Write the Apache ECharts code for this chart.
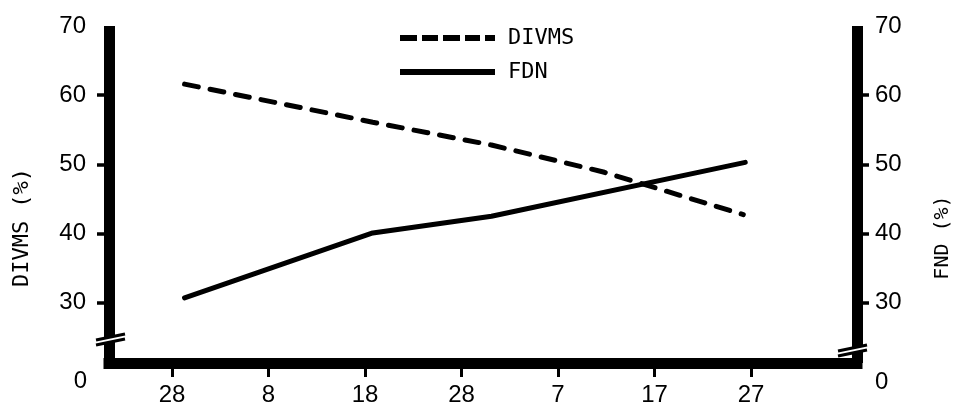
<!DOCTYPE html>
<html>
<head>
<meta charset="utf-8">
<script src="https://cdn.jsdelivr.net/npm/echarts@6/dist/echarts.min.js"></script>
<style>html,body{margin:0;padding:0;background:#fff;}#c{width:957px;height:406px;}</style>
</head>
<body>
<div id="c"></div>
<script>
// ---- data ----
const dayTicks = [0, 10, 20, 30, 40, 50, 60];
const dayLabels = ['28', '8', '18', '28', '7', '17', '27'];
const yTickValues = [30, 40, 50, 60];
const yLabelValues = [30, 40, 50, 60, 70];
const divmsDays = [1.3, 20.8, 33.1, 44.7, 59.2];
const divmsValues = [61.6, 56.1, 52.8, 48.9, 42.75];
const fdnDays = [1.3, 20.8, 33.1, 59.4];
const fdnValues = [30.7, 40.1, 42.5, 50.3];
const seriesNames = ['DIVMS', 'FDN'];
const axisNames = ['DIVMS (%)', 'FND (%)'];
const zeroLabel = '0';

const numFont = '"Liberation Sans", Arial, sans-serif';
const monoFont = '"DejaVu Sans Mono", monospace';
const dashIcon = 'path://M0,0H17V6H0Z M22,0H38V6H22Z M43,0H60V6H43Z M65,0H80V6H65Z M85,0H95V6H85Z';
const solidIcon = 'path://M0,0H95V6H0Z';

const chart = echarts.init(document.getElementById('c'), null, {renderer: 'canvas'});

function yAxisCfg(pos, margin, name, nameFs, padRight) {
  return {
    type: 'value', position: pos, min: 21.3, max: 70,
    name: name, nameLocation: 'middle', nameRotate: 90, nameGap: 76,
    nameTextStyle: {fontFamily: monoFont, fontSize: nameFs, color: '#000', padding: [0, padRight, 0, 0]},
    axisLine: {show: true, onZero: false, lineStyle: {color: '#000', width: 11, cap: 'butt'}},
    axisTick: {show: true, inside: false, customValues: yTickValues, length: 12, lineStyle: {color: '#000', width: 3.5}},
    axisLabel: {show: true, customValues: yLabelValues, margin: margin, color: '#000', fontSize: 24, fontFamily: numFont},
    splitLine: {show: false}
  };
}

const option = {
  backgroundColor: '#fff',
  animation: false,
  grid: {left: 109, right: 100, top: 26, bottom: 43, containLabel: false, outerBoundsMode: 'none'},
  legend: {
    orient: 'vertical', left: 395, top: 22, itemWidth: 95, itemHeight: 6, itemGap: 12,
    textStyle: {fontFamily: monoFont, fontSize: 22, color: '#000', padding: [0, 0, 0, 8]},
    data: [{name: seriesNames[0], icon: dashIcon}, {name: seriesNames[1], icon: solidIcon}]
  },
  xAxis: {
    type: 'value', min: -6.53, max: 70.98,
    axisLine: {show: true, onZero: false, lineStyle: {color: '#000', width: 11, cap: 'square'}},
    axisTick: {show: true, customValues: dayTicks, length: 14, lineStyle: {color: '#000', width: 3}},
    axisLabel: {show: true, customValues: dayTicks, margin: 20, color: '#000', fontSize: 24, fontFamily: numFont,
      formatter: v => dayLabels[dayTicks.indexOf(v)]},
    splitLine: {show: false}
  },
  yAxis: [
    yAxisCfg('left', 23, axisNames[0], 22, 66),
    yAxisCfg('right', 18, axisNames[1], 20, 86)
  ],
  series: [
    {
      name: seriesNames[0], type: 'line', yAxisIndex: 0, symbol: 'none',
      data: divmsDays.map((d, i) => [d, divmsValues[i]]),
      lineStyle: {color: '#000', width: 5, type: [14, 12], cap: 'round'},
      itemStyle: {color: '#000'}
    },
    {
      name: seriesNames[1], type: 'line', yAxisIndex: 1, symbol: 'none',
      data: fdnDays.map((d, i) => [d, fdnValues[i]]),
      lineStyle: {color: '#000', width: 5, type: 'solid', cap: 'round'},
      itemStyle: {color: '#000'}
    }
  ]
};
chart.setOption(option);

// decorations: zero labels and axis-break marks, positioned from the axes
const yMin = 21.3;
const lx = chart.convertToPixel({xAxisIndex: 0}, -6.53);
const rx = chart.convertToPixel({xAxisIndex: 0}, 70.98);
const by = chart.convertToPixel({yAxisIndex: 0}, yMin);

function breakMark(ax, ay, l, r, yA, yB, slope) {
  return [
    {type: 'polygon', z: 100, shape: {points: [[ax + l, ay + yA], [ax + r, ay + yA - slope], [ax + r, ay + yB - slope], [ax + l, ay + yB]]}, style: {fill: '#fff'}},
    {type: 'line', z: 101, shape: {x1: ax + l, y1: ay + yA, x2: ax + r, y2: ay + yA - slope}, style: {stroke: '#000', lineWidth: 3}},
    {type: 'line', z: 101, shape: {x1: ax + l, y1: ay + yB, x2: ax + r, y2: ay + yB - slope}, style: {stroke: '#000', lineWidth: 3}}
  ];
}

chart.setOption({
  graphic: [
    {type: 'text', z: 100, x: lx - 22, y: by + 18, style: {text: zeroLabel, fontSize: 24, fontFamily: numFont, fill: '#000', align: 'right', verticalAlign: 'middle'}},
    {type: 'text', z: 100, x: rx + 18, y: by + 19, style: {text: zeroLabel, fontSize: 24, fontFamily: numFont, fill: '#000', align: 'left', verticalAlign: 'middle'}}
  ].concat(breakMark(lx, by, -13, 16, -18, -23, 6)).concat(breakMark(rx, by, -19, 10, -7, -12, 6))
});
</script>
</body>
</html>
